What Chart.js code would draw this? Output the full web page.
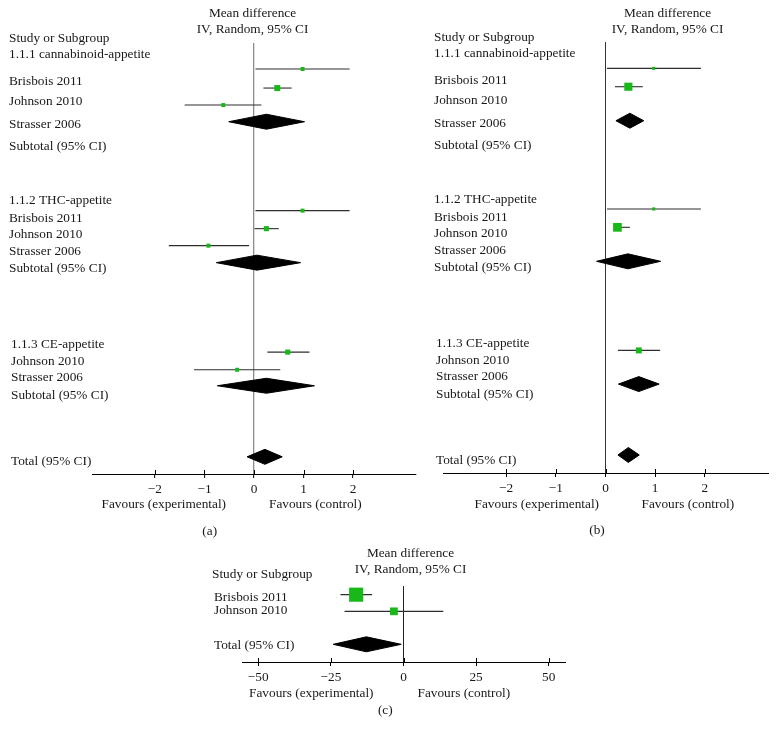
<!DOCTYPE html>
<html>
<head>
<meta charset="utf-8">
<script src="https://cdn.jsdelivr.net/npm/chart.js@4.4.1/dist/chart.umd.min.js"></script>
<style>
  html, body { margin: 0; padding: 0; background: #fff; }
  #page { position: relative; width: 776px; height: 744px; overflow: hidden; }
  canvas { position: absolute; }
</style>
</head>
<body>
<div id="page">
  <canvas id="chartA" width="420" height="545" style="left:0;top:0"></canvas>
  <canvas id="chartB" width="386" height="545" style="left:390px;top:0"></canvas>
  <canvas id="chartC" width="400" height="224" style="left:190px;top:520px"></canvas>
</div>
<script>
// rows are counted in text lines from the top of each plot
const studyNames = ['Study or Subgroup', '1.1.1 cannabinoid-appetite', 'Brisbois 2011', 'Johnson 2010', 'Strasser 2006', 'Subtotal (95% CI)',
  '1.1.2 THC-appetite', 'Brisbois 2011', 'Johnson 2010', 'Strasser 2006', 'Subtotal (95% CI)',
  '1.1.3 CE-appetite', 'Johnson 2010', 'Strasser 2006', 'Subtotal (95% CI)', 'Total (95% CI)'];
const studyRows = [-0.29, 0.65, 2.24, 3.47, 4.82, 6.06, 9.29, 10.35, 11.24, 12.24, 13.29, 17.76, 18.75, 19.69, 20.75, 24.63];

const ticksAB = [-2, -1, 0, 1, 2];
const ticksC = [-50, -25, 0, 25, 50];

// (a)
const aRows = [1.53, 2.65, 3.65, 9.86, 10.92, 11.92, 18.18, 19.22];
const aMean = [0.98, 0.47, -0.62, 0.98, 0.25, -0.92, 0.68, -0.34];
const aLow = [0.03, 0.19, -1.40, 0.03, 0.01, -1.72, 0.27, -1.21];
const aHigh = [1.93, 0.76, 0.15, 1.93, 0.50, -0.10, 1.12, 0.53];
const aWeight = [8, 18, 8, 8, 13, 8, 13, 8];
const aPoolRows = [4.63, 12.92, 20.16, 24.34];
const aPoolMean = [0.25, 0.06, 0.25, 0.22];
const aPoolLow = [-0.51, -0.76, -0.74, -0.14];
const aPoolHigh = [1.02, 0.94, 1.22, 0.57];

// (b)
const bRows = [1.55, 2.63, 9.82, 10.9, 18.14];
const bMean = [0.97, 0.46, 0.97, 0.24, 0.67];
const bLow = [0.03, 0.19, 0.03, 0.17, 0.25];
const bHigh = [1.92, 0.75, 1.92, 0.49, 1.10];
const bWeight = [5, 33, 5, 38, 18];
const bPoolRows = [4.63, 12.9, 20.12, 24.29];
const bPoolMean = [0.49, 0.45, 0.67, 0.46];
const bPoolLow = [0.21, -0.18, 0.26, 0.25];
const bPoolHigh = [0.77, 1.11, 1.08, 0.68];

// (c)
const cNames = ['Study or Subgroup', 'Brisbois 2011', 'Johnson 2010', 'Total (95% CI)'];
const cNameRows = [-0.65, 0.69, 1.46, 3.51];
const cRows = [0.51, 1.49];
const cMean = [-16.3, -3.3];
const cLow = [-21.7, -20.3];
const cHigh = [-10.8, 13.7];
const cWeight = [100, 30];
const cPoolRows = [3.43];
const cPoolMean = [-12.8];
const cPoolLow = [-24.2];
const cPoolHigh = [-0.8];

const GREEN = '#19b819';
const INK = '#1a1718';
const FONT = '13.3px "Liberation Serif", serif';
const DH = 0.44; // half height of the diamonds, in rows

Chart.defaults.font.family = '"Liberation Serif", serif';
Chart.defaults.font.size = 13.3;
Chart.defaults.color = INK;

function textPlugin(p) {
  return {
    id: 'forestText',
    afterDraw(chart) {
      const ctx = chart.ctx, xs = chart.scales.x, ys = chart.scales.y;
      const bottom = chart.chartArea.bottom;
      ctx.save();
      ctx.fillStyle = INK;
      ctx.font = FONT;
      ctx.textBaseline = 'middle';
      // upper half of the axis ticks
      ctx.strokeStyle = '#000';
      ctx.lineWidth = 1;
      xs.ticks.forEach(t => {
        const px = Math.round(xs.getPixelForValue(t.value)) + 0.5;
        ctx.beginPath(); ctx.moveTo(px, bottom - 4); ctx.lineTo(px, bottom); ctx.stroke();
      });
      ctx.textAlign = 'left';
      p.names.forEach((t, i) => {
        const dx = i >= p.indentFrom ? 2 : 0;
        ctx.fillText(t, p.labelX + dx, ys.getPixelForValue(p.nameRows[i]));
      });
      ctx.textAlign = 'center';
      ctx.fillText('Mean difference', p.headX, p.headY[0]);
      ctx.fillText('IV, Random, 95% CI', p.headX, p.headY[1]);
      ctx.fillText(p.letter, p.letterPos[0], p.letterPos[1]);
      const x0 = xs.getPixelForValue(0);
      ctx.textAlign = 'right';
      ctx.fillText('Favours (experimental)', x0 + p.favDx[0], p.favY);
      ctx.textAlign = 'left';
      ctx.fillText('Favours (control)', x0 + p.favDx[1], p.favY);
      ctx.restore();
    }
  };
}

function forestPanel(id, p) {
  const datasets = [{
    data: p.mean.map((m, i) => ({ x: m, y: p.rows[i] })),
    showLine: false,
    pointStyle: 'rect',
    pointRadius: p.weight.map(w => Math.sqrt(w)),
    pointBackgroundColor: GREEN,
    pointBorderColor: GREEN,
    pointBorderWidth: 0
  }];
  p.low.forEach((lo, i) => {
    datasets.push({
      data: [{ x: lo, y: p.rows[i] }, { x: p.high[i], y: p.rows[i] }],
      borderColor: '#2e2e2e', borderWidth: 1.1, pointRadius: 0
    });
  });
  p.poolMean.forEach((m, i) => {
    const r = p.poolRows[i];
    datasets.push({
      data: [{ x: p.poolLow[i], y: r }, { x: m, y: r - DH }, { x: p.poolHigh[i], y: r },
             { x: m, y: r + DH }, { x: p.poolLow[i], y: r }],
      fill: 'shape', backgroundColor: '#000', borderColor: '#000', borderWidth: 1, pointRadius: 0, tension: 0
    });
  });

  new Chart(document.getElementById(id), {
    type: 'line',
    data: { datasets: datasets },
    options: {
      responsive: false,
      animation: false,
      events: [],
      layout: { padding: p.padding },
      plugins: { legend: { display: false }, tooltip: { enabled: false } },
      scales: {
        x: {
          type: 'linear',
          min: p.xMin,
          max: p.xMax,
          afterBuildTicks: s => { s.ticks = p.ticks.map(v => ({ value: v })); },
          afterFit: s => { s.height = p.axisHeight; },
          grid: {
            color: c => (c.tick && c.tick.value === 0) ? p.zeroColor : 'rgba(0,0,0,0)',
            lineWidth: p.zeroWidth,
            tickLength: 4,
            tickColor: '#000',
            tickWidth: 1
          },
          border: { display: true, color: '#000', width: 1 },
          ticks: {
            color: INK,
            padding: 4,
            autoSkip: false,
            maxRotation: 0,
            callback: v => v < 0 ? '\u2212' + Math.abs(v) : String(v)
          }
        },
        y: { type: 'linear', reverse: true, min: 0, max: p.yMax, display: false }
      }
    },
    plugins: [textPlugin(p)]
  });
}

forestPanel('chartA', {
  rows: aRows, mean: aMean, low: aLow, high: aHigh, weight: aWeight,
  poolRows: aPoolRows, poolMean: aPoolMean, poolLow: aPoolLow, poolHigh: aPoolHigh,
  names: studyNames, nameRows: studyRows, indentFrom: 11, labelX: 9,
  ticks: ticksAB, xMin: -3.27, xMax: 3.27, yMax: 25.35,
  padding: { left: 92, right: 4, top: 43, bottom: 0 }, axisHeight: 71,
  zeroColor: '#8c8c8c', zeroWidth: 1.3,
  headX: 252.5, headY: [13.8, 29.3], favDx: [-28, 15], favY: 505,
  letter: '(a)', letterPos: [209.7, 531.7]
});

forestPanel('chartB', {
  rows: bRows, mean: bMean, low: bLow, high: bHigh, weight: bWeight,
  poolRows: bPoolRows, poolMean: bPoolMean, poolLow: bPoolLow, poolHigh: bPoolHigh,
  names: studyNames, nameRows: studyRows, indentFrom: 11, labelX: 44,
  ticks: ticksAB, xMin: -3.27, xMax: 3.27, yMax: 25.35,
  padding: { left: 53, right: 8, top: 42, bottom: 0 }, axisHeight: 72,
  zeroColor: '#333', zeroWidth: 1,
  headX: 277.5, headY: [13.8, 29.3], favDx: [-6.5, 36], favY: 505,
  letter: '(b)', letterPos: [207, 530.8]
});

forestPanel('chartC', {
  rows: cRows, mean: cMean, low: cLow, high: cHigh, weight: cWeight,
  poolRows: cPoolRows, poolMean: cPoolMean, poolLow: cPoolLow, poolHigh: cPoolHigh,
  names: cNames, nameRows: cNameRows, indentFrom: 1, labelX: 22,
  ticks: ticksC, xMin: -55.6, xMax: 55.6, yMax: 4.47,
  padding: { left: 52, right: 25, top: 66, bottom: 0 }, axisHeight: 82,
  zeroColor: '#222', zeroWidth: 1,
  headX: 220.5, headY: [33.8, 50], favDx: [-30, 14], favY: 173.3,
  letter: '(c)', letterPos: [195.3, 190.7]
});
</script>
</body>
</html>
